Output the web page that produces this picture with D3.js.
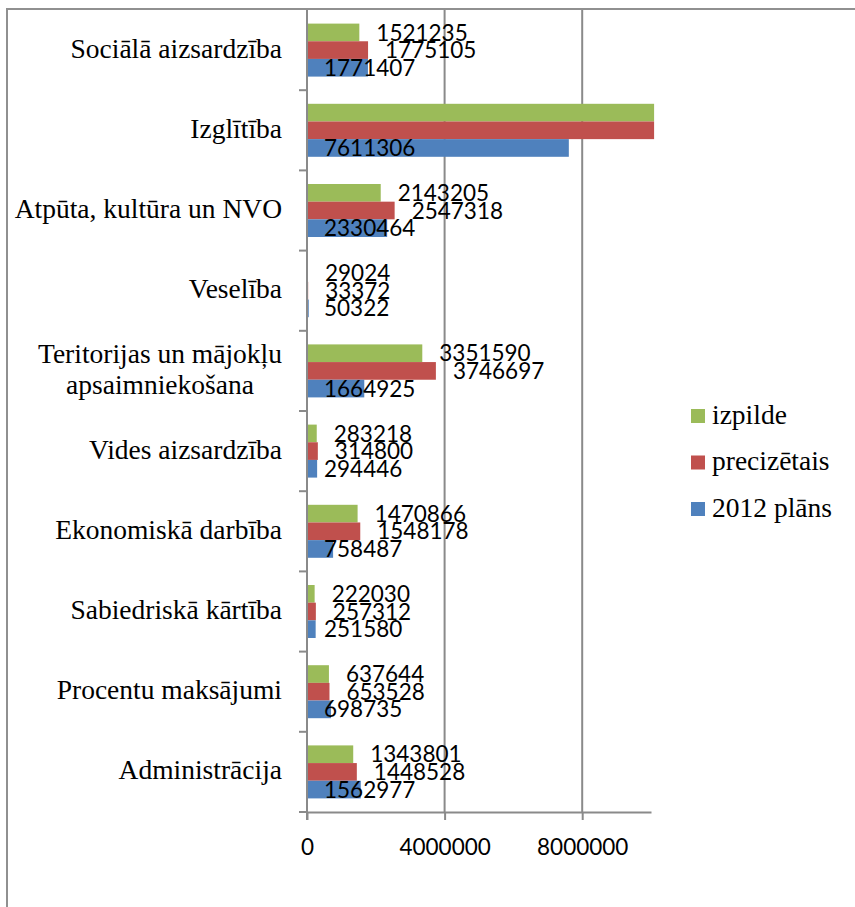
<!DOCTYPE html>
<html lang="lv">
<head>
<meta charset="UTF-8">
<script src="https://d3js.org/d3.v7.min.js"></script>
<title>Izdevumi pa funkcijām</title>
<style>
  body { margin: 0; background: #fff; }
  .cat, .legend text { font-family: "Liberation Serif", serif; font-size: 27.5px; fill: #000; }
  .val, .x-axis text { font-family: Lato, "Open Sans", sans-serif; font-size: 22.5px; fill: #000; }
</style>
</head>
<body>
<svg width="855" height="907"></svg>
<script>
// categories, top to bottom
var categories = [
  'Sociālā aizsardzība',
  'Izglītība',
  'Atpūta, kultūra un NVO',
  'Veselība',
  'Teritorijas un mājokļu apsaimniekošana',
  'Vides aizsardzība',
  'Ekonomiskā darbība',
  'Sabiedriskā kārtība',
  'Procentu maksājumi',
  'Administrācija'
];
var seriesNames = ['izpilde', 'precizētais', '2012 plāns'];
// izpilde + precizētais for Izglītība run past the axis end, no label shown: estimated
var izpilde     = [1521235, 10090000, 2143205, 29024, 3351590, 283218, 1470866, 222030, 637644, 1343801];
var precizetais = [1775105, 10090000, 2547318, 33372, 3746697, 314800, 1548178, 257312, 653528, 1448528];
var plans       = [1771407, 7611306, 2330464, 50322, 1664925, 294446, 758487, 251580, 698735, 1562977];
var xTicks = [0, 4000000, 8000000];
var xMax = 10000000;

var colors = { 'izpilde': '#9bbb59', 'precizētais': '#c0504d', '2012 plāns': '#4f81bd' };
var values = { 'izpilde': izpilde, 'precizētais': precizetais, '2012 plāns': plans };

var svg = d3.select('svg');
var gray = '#8a8a8a';

var x = d3.scaleLinear().domain([0, xMax]).range([307, 651]);
var y = d3.scaleBand().domain(categories).range([10, 812]);
var ySub = d3.scaleBand().domain(seriesNames).range([0, y.bandwidth()]).paddingOuter(0.77);

// outer frame (only top and left visible)
svg.append('path')
  .attr('d', 'M7,910V9H858')
  .attr('fill', 'none').attr('stroke', '#909090').attr('stroke-width', 2);

// gridlines
svg.append('g').selectAll('line')
  .data(xTicks.filter(d => d > 0))
  .enter().append('line')
  .attr('x1', d => x(d)).attr('x2', d => x(d))
  .attr('y1', y.range()[0]).attr('y2', y.range()[1])
  .attr('stroke', gray).attr('stroke-width', 2);

// bars
var rows = [];
categories.forEach(function (c, i) {
  seriesNames.forEach(function (s) {
    rows.push({ cat: c, series: s, value: values[s][i] });
  });
});

svg.append('g').selectAll('rect')
  .data(rows)
  .enter().append('rect')
  .attr('x', x(0))
  .attr('y', d => y(d.cat) + ySub(d.series))
  .attr('width', d => x(d.value) - x(0))
  .attr('height', ySub.bandwidth())
  .attr('fill', d => colors[d.series]);

// x axis
var xAxis = svg.append('g')
  .attr('class', 'x-axis')
  .attr('transform', 'translate(0,' + y.range()[1] + ')')
  .call(d3.axisBottom(x).tickValues(xTicks).tickSizeInner(8).tickSizeOuter(0).tickPadding(19).tickFormat(d3.format('d')));
xAxis.select('.domain').attr('stroke', gray).attr('stroke-width', 2);
xAxis.selectAll('.tick line').attr('stroke', gray).attr('stroke-width', 2);
xAxis.selectAll('text').style('font-family', 'Lato').style('font-size', '22.5px').attr('fill', '#000');

// y axis line + ticks at category boundaries
svg.append('line')
  .attr('x1', x(0)).attr('x2', x(0))
  .attr('y1', y.range()[0]).attr('y2', y.range()[1] + 8)
  .attr('stroke', gray).attr('stroke-width', 2);
svg.append('g').selectAll('line')
  .data(categories.slice(1).concat(['end']))
  .enter().append('line')
  .attr('x1', x(0) - 8).attr('x2', x(0))
  .attr('y1', (d, i) => y.range()[0] + (i + 1) * y.step())
  .attr('y2', (d, i) => y.range()[0] + (i + 1) * y.step())
  .attr('stroke', gray).attr('stroke-width', 2);

// value labels: blue at inside base, others at outside end
svg.append('g').selectAll('text')
  .data(rows.filter(d => d.value <= xMax))
  .enter().append('text')
  .attr('class', 'val')
  .attr('x', d => (d.series === '2012 plāns' ? x(0) : x(d.value)) + 17)
  .attr('y', d => y(d.cat) + ySub(d.series) + ySub.bandwidth() / 2)
  .attr('dy', '0.36em')
  .text(d => d.value);

// category labels, wrapped when too wide
var labelRight = 282, maxWidth = 290;
categories.forEach(function (c) {
  var t = svg.append('text').attr('class', 'cat').attr('text-anchor', 'end');
  var cy = y(c) + y.bandwidth() / 2 + 7.5;
  t.attr('x', labelRight).attr('y', cy).text(c);
  if (t.node().getComputedTextLength() > maxWidth) {
    var words = c.split(' '), lines = [], line = [];
    t.text('');
    words.forEach(function (w) {
      t.text(line.concat([w]).join(' '));
      if (t.node().getComputedTextLength() > maxWidth * 0.95 && line.length) {
        lines.push(line.join(' '));
        line = [w];
      } else {
        line.push(w);
      }
    });
    lines.push(line.join(' '));
    t.text('');
    var widths = lines.map(function (l) { t.text(l); return t.node().getComputedTextLength(); });
    t.text('').attr('text-anchor', 'middle');
    var cx = labelRight - d3.max(widths) / 2;
    lines.forEach(function (l, i) {
      t.append('tspan').attr('x', cx)
        .attr('y', cy + (i - (lines.length - 1) / 2) * 31)
        .text(l);
    });
  }
});

// legend
var legend = svg.append('g').attr('class', 'legend')
  .selectAll('g')
  .data(seriesNames)
  .enter().append('g')
  .attr('transform', (d, i) => 'translate(691,' + (416 + i * 46.5) + ')');
legend.append('rect').attr('x', 0).attr('y', -7).attr('width', 14).attr('height', 14)
  .attr('fill', d => colors[d]);
legend.append('text').attr('x', 21).attr('y', 7.5).text(d => d);
</script>
</body>
</html>
